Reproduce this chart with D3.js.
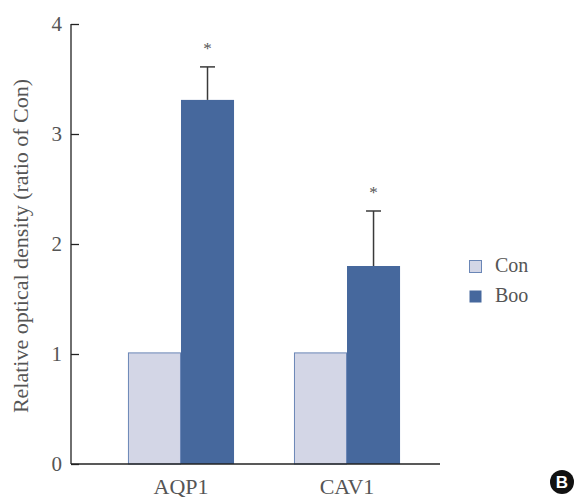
<!DOCTYPE html>
<html>
<head>
<meta charset="utf-8">
<title>Relative optical density</title>
<style>
  body { margin: 0; background: #fff; }
  text { font-family: 'Liberation Serif', 'DejaVu Serif', serif; }
</style>
<script src="https://d3js.org/d3.v7.min.js"></script>
</head>
<body>
<div id="chart"></div>
<script>
// ---- data ----
const categories = ["AQP1", "CAV1"];
const groups = ["Con", "Boo"];
const conValues = [1.01, 1.01];
const booValues = [3.31, 1.80];
const booErrors = [0.30, 0.50];
const significant = [true, true];
const yTicks = [0, 1, 2, 3, 4];

const width = 579, height = 499;
const margin = { top: 24, right: 122, bottom: 35, left: 71 };

const colors = { Con: "#d3d6e6", Boo: "#46689d" };

const svg = d3.select("#chart").append("svg")
    .attr("width", width)
    .attr("height", height);

// ---- scales ----
const x = d3.scaleBand()
    .domain(categories)
    .range([margin.left, width - margin.right])
    .paddingInner(0.361)
    .paddingOuter(0.343);

const xs = d3.scaleBand()
    .domain(groups)
    .range([0, x.bandwidth()]);

const y = d3.scaleLinear()
    .domain([0, 4])
    .range([height - margin.bottom, margin.top]);

// ---- bars ----
const rows = categories.map((c, i) => ({
  cat: c, con: conValues[i], boo: booValues[i], err: booErrors[i], sig: significant[i]
}));

const g = svg.append("g");

g.selectAll("rect.con")
  .data(rows).enter().append("rect")
    .attr("class", "con")
    .attr("x", d => x(d.cat) + xs("Con") + 0.5)
    .attr("y", d => y(d.con))
    .attr("width", xs.bandwidth() - 1)
    .attr("height", d => y(0) - y(d.con))
    .attr("fill", colors.Con)
    .attr("stroke", "#6a86b6")
    .attr("stroke-width", 1);

g.selectAll("rect.boo")
  .data(rows).enter().append("rect")
    .attr("class", "boo")
    .attr("x", d => x(d.cat) + xs("Boo"))
    .attr("y", d => y(d.boo))
    .attr("width", xs.bandwidth())
    .attr("height", d => y(0) - y(d.boo))
    .attr("fill", colors.Boo);

// error bars (upper only)
const cx = d => x(d.cat) + xs("Boo") + xs.bandwidth() / 2;

g.selectAll("line.err")
  .data(rows).enter().append("line")
    .attr("x1", cx).attr("x2", cx)
    .attr("y1", d => y(d.boo))
    .attr("y2", d => y(d.boo + d.err))
    .attr("stroke", "#3a3a3a")
    .attr("stroke-width", 1.5);

g.selectAll("line.cap")
  .data(rows).enter().append("line")
    .attr("x1", d => cx(d) - 7.5).attr("x2", d => cx(d) + 7.5)
    .attr("y1", d => y(d.boo + d.err))
    .attr("y2", d => y(d.boo + d.err))
    .attr("stroke", "#3a3a3a")
    .attr("stroke-width", 1.5);

g.selectAll("text.sig")
  .data(rows.filter(d => d.sig)).enter().append("text")
    .attr("x", cx)
    .attr("y", d => y(d.boo + d.err) - 13)
    .attr("text-anchor", "middle")
    .attr("font-size", 17)
    .attr("fill", "#555")
    .text("*");

// ---- axes ----
const yAxis = svg.append("g")
    .attr("transform", `translate(${margin.left},0)`)
    .call(d3.axisLeft(y).tickValues(yTicks).tickSize(-8).tickPadding(9).tickFormat(d3.format("d")));
yAxis.select(".domain").attr("stroke", "#222").attr("stroke-width", 1.3)
    .attr("d", `M0,${y(4)}V${y(0)}`);
yAxis.selectAll(".tick line").attr("stroke", "#222").attr("stroke-width", 1.3);
yAxis.selectAll(".tick text").attr("font-size", 21).attr("fill", "#555")
    .attr("font-family", "'Liberation Serif', serif");

const xAxis = svg.append("g")
    .attr("transform", `translate(0,${y(0)})`)
    .call(d3.axisBottom(x).tickSize(0).tickPadding(10));
xAxis.select(".domain").attr("stroke", "#222").attr("stroke-width", 1.5)
    .attr("d", `M${margin.left},0H440`);
xAxis.selectAll(".tick text").attr("font-size", 22).attr("fill", "#555")
    .attr("font-family", "'Liberation Serif', serif")
    .attr("dy", "0.9em");

svg.append("text")
    .attr("transform", `translate(28,246) rotate(-90)`)
    .attr("text-anchor", "middle")
    .attr("font-size", 22)
    .attr("fill", "#555")
    .text("Relative optical density (ratio of Con)");

// ---- legend ----
const legend = svg.append("g").attr("transform", "translate(469,260)");
groups.forEach((k, i) => {
  const row = legend.append("g").attr("transform", `translate(0,${i * 30})`);
  row.append("rect")
    .attr("x", 0.5).attr("y", 0.5)
    .attr("width", 12).attr("height", 12)
    .attr("fill", colors[k])
    .attr("stroke", k === "Con" ? "#6a86b6" : "none");
  row.append("text")
    .attr("x", 26).attr("y", 12)
    .attr("font-size", 20)
    .attr("fill", "#555")
    .text(k);
});

// ---- panel badge ----
const badge = svg.append("g").attr("transform", "translate(562,482)");
badge.append("circle").attr("r", 12).attr("fill", "#111");
badge.append("text")
    .attr("text-anchor", "middle")
    .attr("dy", "0.36em")
    .attr("font-size", 17)
    .attr("font-weight", "bold")
    .attr("fill", "#fff")
    .style("font-family", "'Liberation Sans', Arial, sans-serif")
    .text("B");
</script>
</body>
</html>
